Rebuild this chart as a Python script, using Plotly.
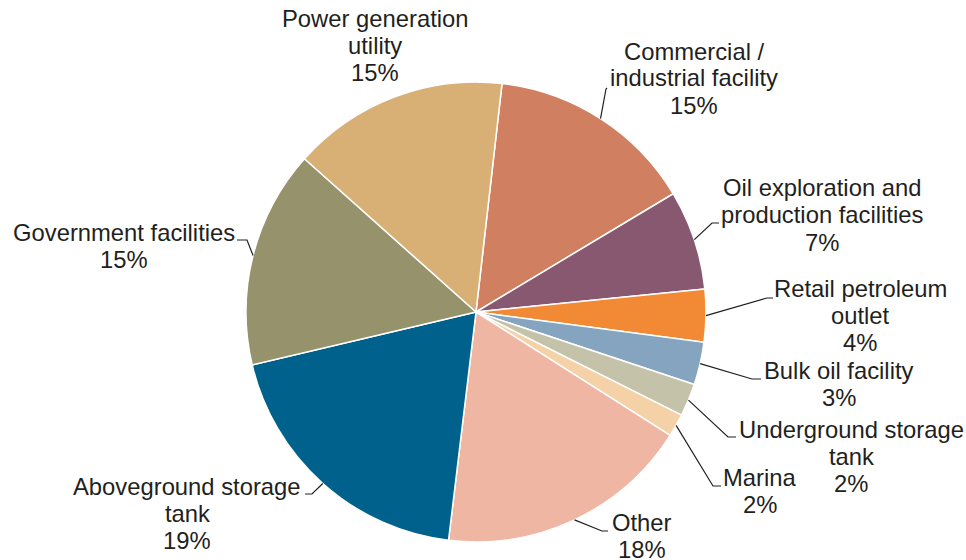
import math
import plotly.graph_objects as go

# ---- data ----
categories = ["Commercial / industrial facility",
              "Oil exploration and production facilities",
              "Retail petroleum outlet",
              "Bulk oil facility",
              "Underground storage tank",
              "Marina",
              "Other",
              "Aboveground storage tank",
              "Government facilities",
              "Power generation utility"]
values = [14.6, 7.0, 3.7, 3.0, 2.3, 1.6, 17.9, 19.4, 15.3, 15.2]
label_lines = [["Commercial /", "industrial facility"],
               ["Oil exploration and", "production facilities"],
               ["Retail petroleum", "outlet"],
               ["Bulk oil facility"],
               ["Underground storage", "tank"],
               ["Marina"],
               ["Other"],
               ["Aboveground storage", "tank"],
               ["Government facilities"],
               ["Power generation", "utility"]]

# ---- styles / layout ----
colors = ["#D08060", "#885870", "#F28A35", "#84A4BF", "#C4C2A8",
          "#F5D1A8", "#EFB6A3", "#00628C", "#96936C", "#D8B075"]
W, H = 966, 560
CX, CY, R = 476, 312, 230
ROT = 6.5
FONT = "Arial, Liberation Sans, sans-serif"
FS = 23.8
LS = 27.0
TXT = "#231f20"

# label block placement (x center, first line center y) in pixels
label_pos = [(694, 51), (822, 188), (860, 288), (839, 370), (851, 429.5),
             (760, 477.5), (642, 522), (187, 486), (124, 232), (375, 18.5)]
# leader elbow and end points in pixels (None = no leader)
leader = [((606, 89), (607, 88)), ((712, 223), (719, 223)), ((767, 298), (773, 298)),
          ((752, 379), (761, 379)), ((728, 437), (736, 437)), ((713, 486), (721, 486)),
          ((602, 531), (608, 531)), ((312, 494), (305, 494)), ((247, 240), (237, 240)),
          None]

def px(x):
    return x / W

def py(y):
    return 1 - y / H

fig = go.Figure(go.Pie(
    labels=categories, values=values, sort=False, direction="clockwise",
    rotation=ROT, textinfo="none", hoverinfo="label+percent",
    marker=dict(colors=colors, line=dict(color="white", width=1.5)),
    domain=dict(x=[(CX - R) / W, (CX + R) / W], y=[1 - (CY + R) / H, 1 - (CY - R) / H]),
    showlegend=False,
))

total = sum(values)
cum = 0.0
annotations = []
shapes = []
for i, v in enumerate(values):
    mid = math.radians(ROT + 360 * (cum + v / 2) / total)
    cum += v
    rx = CX + R * math.sin(mid)
    ry = CY - R * math.cos(mid)
    lines = label_lines[i] + [f"{round(v / total * 100)}%"]
    lx, ly = label_pos[i]
    for k, t in enumerate(lines):
        annotations.append(dict(
            x=px(lx), y=py(ly + k * LS), xref="paper", yref="paper",
            text=t, showarrow=False, xanchor="center", yanchor="middle",
            font=dict(family=FONT, size=FS, color=TXT)))
    if leader[i] is not None:
        (ex, ey), (fx, fy) = leader[i]
        path = f"M {px(rx)} {py(ry)} L {px(ex)} {py(ey)} L {px(fx)} {py(fy)}"
        shapes.append(dict(type="path", path=path, xref="paper", yref="paper",
                           line=dict(color=TXT, width=1.2)))

fig.update_layout(
    width=W, height=H, margin=dict(l=0, r=0, t=0, b=0),
    paper_bgcolor="white", plot_bgcolor="white",
    annotations=annotations, shapes=shapes,
)

fig.write_html("out.html", config={"displayModeBar": False},
               post_script="document.body.style.margin='0';document.body.style.overflow='hidden';")
